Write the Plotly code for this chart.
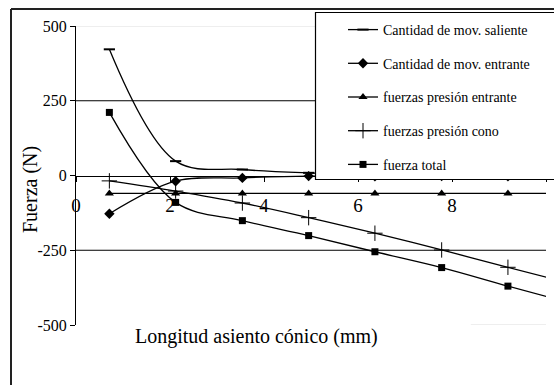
import plotly.graph_objects as go

# ---- data ----
x_mm = [0.71, 2.12, 3.54, 4.95, 6.36, 7.78, 9.19, 10.61]
cant_mov_saliente = [422, 48, 20, 9, 5, 3, 2, 2]
cant_mov_entrante = [-128, -19, -8, -2, -3, -2, -3, -3]
fuerzas_presion_entrante = [-60, -60, -60, -60, -60, -60, -60, -60]
fuerzas_presion_cono = [-18, -52, -92, -141, -193, -249, -307, -365]
fuerza_total = [211, -90, -151, -201, -255, -308, -370, -430]

series_names = [
    "Cantidad de mov. saliente",
    "Cantidad de mov. entrante",
    "fuerzas presión entrante",
    "fuerzas presión cono",
    "fuerza total",
]
x_ticks = [0, 2, 4, 6, 8, 10]
y_ticks = [-500, -250, 0, 250, 500]

FONT = "Liberation Serif"
W, H = 554, 385
ML, MR, MT, MB = 76, 8, 26, 60
PW = W - ML - MR
PH = H - MT - MB


def px_x(p):
    return (p - ML) / PW


def px_y(p):
    return (H - MB - p) / PH


series = [cant_mov_saliente, cant_mov_entrante, fuerzas_presion_entrante,
          fuerzas_presion_cono, fuerza_total]
markers = [
    dict(symbol="line-ew", size=8, line=dict(width=2, color="black")),
    dict(symbol="diamond", size=8),
    dict(symbol="triangle-up", size=8),
    dict(symbol="cross-thin", size=11, line=dict(width=1, color="black")),
    dict(symbol="square", size=7),
]

fig = go.Figure()
for i, (name, vals, mk) in enumerate(zip(series_names, series, markers)):
    fig.add_trace(go.Scatter(
        x=x_mm, y=vals, name=name, mode="lines+markers",
        line=dict(color="black", width=1.3, shape="spline", smoothing=1),
        marker=dict(color="black", **mk),
        legendgroup=f"g{i}",
    ))

shapes = [
    # outer chart frame (top and left edges)
    dict(type="line", xref="paper", yref="paper",
         x0=px_x(11), x1=px_x(700), y0=px_y(9), y1=px_y(9),
         line=dict(color="#222222", width=2), layer="above"),
    dict(type="line", xref="paper", yref="paper",
         x0=px_x(11), x1=px_x(11), y0=px_y(9), y1=px_y(400),
         line=dict(color="#222222", width=2), layer="above"),
    # plot area top border (light)
    dict(type="line", xref="paper", yref="y", x0=0, x1=1, y0=500, y1=500,
         line=dict(color="#dddddd", width=1), layer="below"),
    dict(type="line", xref="x", yref="y", x0=8.4, x1=10, y0=-500, y1=-500,
         line=dict(color="#dddddd", width=1), layer="below"),
    # horizontal gridlines
    dict(type="line", xref="paper", yref="y", x0=0, x1=1, y0=250, y1=250,
         line=dict(color="black", width=1), layer="below"),
    dict(type="line", xref="paper", yref="y", x0=0, x1=1, y0=-250, y1=-250,
         line=dict(color="black", width=1), layer="below"),
    # legend box
    dict(type="rect", xref="paper", yref="paper",
         x0=px_x(315.5), x1=px_x(700), y0=px_y(179.5), y1=px_y(12.5),
         line=dict(color="black", width=1.2), fillcolor="white", layer="above"),
]

annotations = [
    dict(text="Fuerza (N)", xref="paper", yref="paper", x=px_x(30), y=px_y(190),
         xanchor="center", yanchor="middle",
         textangle=-90, showarrow=False, font=dict(family=FONT, size=20, color="black")),
    dict(text="Longitud asiento cónico (mm)", xref="paper", yref="paper",
         x=px_x(256), y=px_y(336), xanchor="center", yanchor="middle", showarrow=False,
         font=dict(family=FONT, size=20, color="black")),
]

fig.update_layout(
    width=W, height=H,
    margin=dict(l=ML, r=MR, t=MT, b=MB, autoexpand=False),
    paper_bgcolor="white", plot_bgcolor="white",
    font=dict(family=FONT, color="black"),
    showlegend=True,
    legend=dict(
        x=px_x(343), y=px_y(14), xanchor="left", yanchor="top",
        bgcolor="rgba(0,0,0,0)", borderwidth=0,
        traceorder="grouped", tracegroupgap=12.5,
        font=dict(family=FONT, size=14, color="black"),
        itemwidth=30,
    ),
    shapes=shapes,
    annotations=annotations,
    xaxis=dict(
        range=[0, 10], tickvals=x_ticks, ticktext=[str(v) for v in x_ticks],
        anchor="free", position=0.5,
        showline=True, linecolor="black", linewidth=1,
        ticks="outside", ticklen=5, tickcolor="black",
        showgrid=False, zeroline=False,
        tickfont=dict(family=FONT, size=19, color="black"),
        ticklabelstandoff=8,
    ),
    yaxis=dict(
        range=[-500, 500], tickvals=y_ticks, ticktext=[str(v) for v in y_ticks],
        showline=True, linecolor="black", linewidth=1,
        ticks="outside", ticklen=5, tickcolor="black",
        showgrid=False, zeroline=False,
        tickfont=dict(family=FONT, size=16, color="black"),
    ),
)

fig.write_html(
    "out.html",
    config={"displayModeBar": False},
    post_script="document.body.style.margin='0';document.body.style.overflow='hidden';",
)
